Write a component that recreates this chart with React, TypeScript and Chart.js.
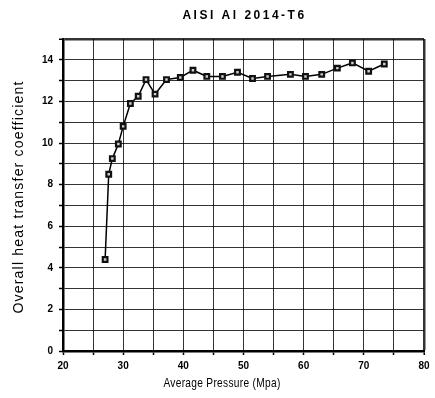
import React, { useEffect, useRef } from "react";
import { Chart, registerables } from "chart.js";

Chart.register(...registerables);

const chartTitle = "AISI Al 2014-T6";
const xTitle = "Average Pressure (Mpa)";
const yTitle = "Overall heat transfer coefficient";

const pressure = [27.0, 27.6, 28.2, 29.2, 30.0, 31.2, 32.5, 33.8, 35.3, 37.2, 39.5, 41.6, 43.9, 46.5, 49.0, 51.5, 54.0, 57.8, 60.3, 63.0, 65.6, 68.1, 70.8, 73.4];
const coefficient = [4.4, 8.5, 9.25, 9.95, 10.8, 11.9, 12.25, 13.05, 12.35, 13.05, 13.15, 13.5, 13.2, 13.2, 13.4, 13.1, 13.2, 13.3, 13.2, 13.3, 13.6, 13.85, 13.45, 13.8];

const xMin = 20, xMax = 80, xStep = 5, xLabelEvery = 10;
const yMin = 0, yMax = 15, yStep = 1, yLabelEvery = 2;

const FONT = "'Liberation Sans', Arial, Helvetica, sans-serif";

const titlesPlugin = {
  id: "titles",
  afterDraw(chart: any) {
    const { ctx, chartArea } = chart;
    ctx.save();
    ctx.fillStyle = "#000";
    ctx.textAlign = "center";
    ctx.textBaseline = "middle";
    // main title
    ctx.font = `bold 12px ${FONT}`;
    (ctx as any).letterSpacing = "2.5px";
    ctx.fillText(chartTitle, (chartArea.left + chartArea.right) / 2 + 1, 16);
    // x title
    ctx.save();
    ctx.font = `13px ${FONT}`;
    (ctx as any).letterSpacing = "0.4px";
    ctx.translate(222, 383);
    ctx.scale(0.78, 1);
    ctx.fillText(xTitle, 0, 0);
    ctx.restore();
    // y title
    ctx.font = `14px ${FONT}`;
    (ctx as any).letterSpacing = "1.2px";
    ctx.translate(19, 197);
    ctx.rotate(-Math.PI / 2);
    ctx.fillText(yTitle, 0, 0);
    ctx.restore();
  },
};

export default function App() {
  const ref = useRef<HTMLCanvasElement | null>(null);
  useEffect(() => {
    document.body.style.margin = "0";
    const canvas = ref.current;
    if (!canvas) return;
    const chart = new Chart(canvas, {
      type: "scatter",
      data: {
        datasets: [
          {
            data: pressure.map((p, i) => ({ x: p, y: coefficient[i] })),
            showLine: true,
            borderColor: "#000",
            borderWidth: 1.5,
            pointStyle: "rect",
            pointRadius: 3.3,
            pointBorderWidth: 2.2,
            pointBorderColor: "#111",
            pointBackgroundColor: "#cfcfcf",
          },
        ],
      },
      options: {
        responsive: false,
        animation: false,
        layout: { padding: { top: 39, right: 11, left: 0, bottom: 0 } },
        plugins: { legend: { display: false }, tooltip: { enabled: false }, title: { display: false } },
        scales: {
          x: {
            type: "linear",
            min: xMin,
            max: xMax,
            afterFit: (s: any) => { s.height = 47; },
            border: { display: true, color: "#000", width: 2.5 },
            grid: {
              color: "rgba(0,0,0,0.8)",
              lineWidth: (c: any) => (c.tick && c.tick.value === xMax ? 2.5 : 1),
              tickLength: 4,
              tickColor: "#000",
              tickWidth: 1.5,
            },
            ticks: {
              stepSize: xStep,
              autoSkip: false,
              maxRotation: 0,
              padding: 5,
              color: "#000",
              font: { family: FONT, size: 10, weight: "bold" },
              callback: (v: any) => (Number(v) % xLabelEvery === 0 ? String(v) : ""),
            },
          },
          y: {
            type: "linear",
            min: yMin,
            max: yMax,
            afterFit: (s: any) => { s.width = 63; },
            border: { display: true, color: "#000", width: 2.5 },
            grid: {
              color: "rgba(0,0,0,0.8)",
              lineWidth: (c: any) => (c.tick && c.tick.value === yMax ? 2.5 : 1),
              tickLength: 4,
              tickColor: "#000",
              tickWidth: 1.5,
            },
            ticks: {
              stepSize: yStep,
              autoSkip: false,
              padding: 6,
              color: "#000",
              font: { family: FONT, size: 10, weight: "bold" },
              callback: (v: any) => (Number(v) % yLabelEvery === 0 ? String(v) : ""),
            },
          },
        },
      },
      plugins: [titlesPlugin],
    } as any);
    return () => chart.destroy();
  }, []);
  return <canvas ref={ref} width={435} height={398} style={{ display: "block" }} />;
}
